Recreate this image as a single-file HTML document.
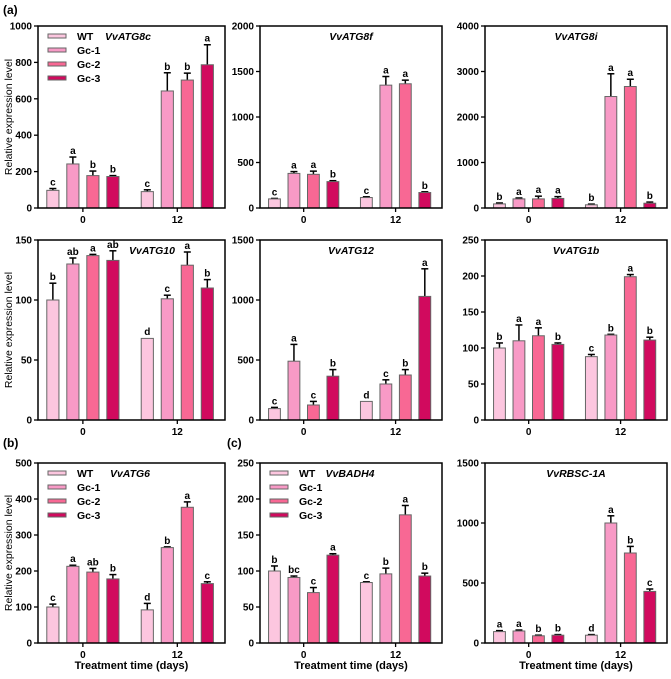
<!DOCTYPE html>
<html><head><meta charset="utf-8"><style>
body{margin:0;background:#fff}
svg text{font-family:"Liberation Sans",Arial,sans-serif}
</style></head><body>
<svg id="fig" width="671" height="674" viewBox="0 0 671 674" xmlns="http://www.w3.org/2000/svg"></svg>
<script>
const categories = ["0", "12"];
const seriesNames = ["WT", "Gc-1", "Gc-2", "Gc-3"];
const genes = ["VvATG8c","VvATG8f","VvATG8i","VvATG10","VvATG12","VvATG1b","VvATG6","VvBADH4","VvRBSC-1A"];
const yMaxes = [1000,2000,4000,150,1500,250,500,250,1500];
const yStepSizes = [200,500,1000,50,500,50,100,50,500];
// values[panel] = [day0 x4, day12 x4]
const values = [
 [97,242,178,173, 90,643,703,787],
 [100,380,370,290, 115,1350,1365,170],
 [90,200,200,210, 70,2450,2670,105],
 [100,130,137,133, 68,101,129,110],
 [95,490,125,365, 155,300,375,1030],
 [100,110,117,105, 88,118,199,111],
 [100,213,197,178, 92,265,377,165],
 [100,91,70,122, 84,96,178,93],
 [95,100,60,65, 65,1000,750,430]
];
const errors = [
 [10,38,25,5, 10,100,38,110],
 [5,20,35,10, 8,95,40,8],
 [20,20,60,40, 15,500,160,25],
 [14,5,1,8, 0.5,3,11,7],
 [10,140,30,55, 0,35,45,230],
 [7,22,11,2, 3,1,3,4],
 [8,3,10,12, 18,2,15,5],
 [7,2,7,2, 1,8,13,4],
 [8,8,5,5, 5,60,55,20]
];
const letters = [
 ["c","a","b","b","c","b","b","a"],
 ["c","a","a","b","c","a","a","b"],
 ["b","a","a","a","b","a","a","b"],
 ["b","ab","a","ab","d","c","a","b"],
 ["c","a","c","b","d","c","b","a"],
 ["b","a","a","b","c","b","a","b"],
 ["c","a","ab","b","d","b","a","c"],
 ["b","bc","c","a","c","b","a","b"],
 ["a","a","b","b","d","a","b","c"]
];
const colors = ["#fcc6df","#f89ac6","#f86894","#d10a5e"];
const NS = "http://www.w3.org/2000/svg";
const svg = document.getElementById("fig");
function mk(tag, attrs, parent, txt){
  const e = document.createElementNS(NS, tag);
  for (const k in attrs) e.setAttribute(k, attrs[k]);
  if (txt !== undefined) e.textContent = txt;
  (parent || svg).appendChild(e);
  return e;
}
const cols = [[38,225],[260,442],[485,667]];
const rows = [[26,208],[240,420],[463,643]];
const titleX = [128, null, null, 152, null, null, 130, 350, null];
const legendPanels = [0,6,7];

for (let p = 0; p < 9; p++) {
  const [x0,x1] = cols[p%3], [y0,y1] = rows[Math.floor(p/3)];
  const W = x1-x0, H = y1-y0;
  const g = mk("g", {});
  
  
  const yS = v => y1 - v / yMaxes[p] * H;
  const xS = (ci, si) => x0 + (ci === 0 ? 0.24 : 0.745) * W + (si - 1.5) * 0.107 * W;
  const bw = 0.065 * W;
  for (let v = 0; v <= yMaxes[p] + 1e-9; v += yStepSizes[p]) {
    const y = yS(v);
    mk("line", {x1:x0-4, x2:x0, y1:y, y2:y, stroke:"#000", "stroke-width":1.3}, g);
    const t = mk("text", {x:x0-6, y:y+3.5, "text-anchor":"end", "font-size":10, "font-weight":"bold"}, g, String(v));
    
    
  }
  categories.forEach((c, ci) => {
    const cx = x0 + (ci === 0 ? 0.24 : 0.745) * W;
    mk("line", {x1:cx, x2:cx, y1:y1, y2:y1+4, stroke:"#000", "stroke-width":1.3}, g);
    const t = mk("text", {x:cx, y:y1+15, "text-anchor":"middle", "font-size":10, "font-weight":"bold"}, g, c);
    
    
  });
  for (let ci = 0; ci < 2; ci++) for (let si = 0; si < 4; si++) {
    const i = ci*4+si, v = values[p][i], e = errors[p][i];
    const cx = xS(ci, si), yt = yS(v), ye = yS(v+e);
    if (e > 0.5) {
      mk("line", {x1:cx, x2:cx, y1:yt, y2:ye, stroke:"#000", "stroke-width":1.5}, g);
      mk("line", {x1:cx-3.5, x2:cx+3.5, y1:ye, y2:ye, stroke:"#000", "stroke-width":1.5}, g);
    }
    const r = mk("rect", {x:cx-bw/2, y:yt, width:bw, height:y1-yt, fill:colors[si], stroke:"#666", "stroke-width":1}, g);
    
    
    const l = mk("text", {x:cx, y:Math.min(yt, ye)-3, "text-anchor":"middle", "font-size":10, "font-weight":"bold"}, g, letters[p][i]);
    
    
  }
  mk("rect", {x:x0, y:y0, width:W, height:H, fill:"none", stroke:"#000", "stroke-width":1.5}, g);
  const tx = titleX[p] !== null ? titleX[p] : x0 + W/2;
  const tt = mk("text", {x:tx, y:y0+14, "text-anchor":"middle", "font-size":10.5, "font-weight":"bold", "font-style":"italic"}, g, genes[p]);
  
  
  if (legendPanels.includes(p)) {
    seriesNames.forEach((n, si) => {
      const ly = y0 + 10 + si * 14;
      const sw = mk("rect", {x:x0+10, y:ly-2, width:18, height:4, fill:colors[si], stroke:"#666", "stroke-width":1}, g);
      
      
      const lt = mk("text", {x:x0+39, y:ly+4, "font-size":10.5, "font-weight":"bold"}, g, n);
      
      
    });
  }
  if (p % 3 === 0) {
    const cy = (y0+y1)/2;
    const yt = mk("text", {x:12, y:cy, transform:`rotate(-90 12 ${cy})`, "text-anchor":"middle", "font-size":10.5}, g, "Relative expression level");
    
    
  }
  if (p >= 6) {
    const xt = mk("text", {x:x0+W/2, y:669, "text-anchor":"middle", "font-size":11, "font-weight":"bold"}, g, "Treatment time (days)");
    
    
  }
}
[["(a)",3,14],["(b)",3,447],["(c)",227,447]].forEach(([s,x,y]) => {
  const t = mk("text", {x:x, y:y, "font-size":12, "font-weight":"bold"}, svg, s);
  
  
});
</script>
</body></html>
